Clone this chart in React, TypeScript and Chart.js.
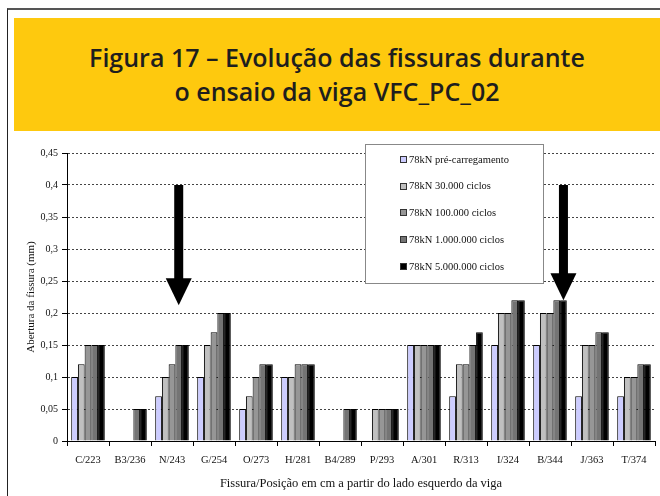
import React, { useEffect, useRef } from "react";
import { Chart, registerables } from "chart.js";

Chart.register(...registerables);

const categories = ["C/223", "B3/236", "N/243", "G/254", "O/273", "H/281", "B4/289", "P/293", "A/301", "R/313", "I/324", "B/344", "J/363", "T/374"];
const seriesLabels = ["78kN pré-carregamento", "78kN 30.000 ciclos", "78kN 100.000 ciclos", "78kN 1.000.000 ciclos", "78kN 5.000.000 ciclos"];
const preLoad = [0.1, 0, 0.07, 0.1, 0.05, 0.1, 0, 0, 0.15, 0.07, 0.15, 0.15, 0.07, 0.07];
const cycles30k = [0.12, 0, 0.1, 0.15, 0.07, 0.1, 0, 0.05, 0.15, 0.12, 0.2, 0.2, 0.15, 0.1];
const cycles100k = [0.15, 0, 0.12, 0.17, 0.1, 0.12, 0, 0.05, 0.15, 0.12, 0.2, 0.2, 0.15, 0.1];
const cycles1M = [0.15, 0.05, 0.15, 0.2, 0.12, 0.12, 0.05, 0.05, 0.15, 0.15, 0.22, 0.22, 0.17, 0.12];
const cycles5M = [0.15, 0.05, 0.15, 0.2, 0.12, 0.12, 0.05, 0.05, 0.15, 0.17, 0.22, 0.22, 0.17, 0.12];
const seriesColors = ["#ccccff", "#c0c0c0", "#969696", "#747474", "#000000"];
const yTicks = [0, 0.05, 0.1, 0.15, 0.2, 0.25, 0.3, 0.35, 0.4, 0.45];
const arrowMarks = [
  { category: "N/243", series: 3, from: 0.4, to: 0.212 },
  { category: "B/344", series: 4, from: 0.4, to: 0.22 },
];

const titleLines = ["Figura 17 – Evolução das fissuras durante", "o ensaio da viga VFC_PC_02"];
const yTitle = "Abertura da fissura (mm)";
const xTitle = "Fissura/Posição em cm a partir do lado esquerdo da viga";

const SERIF = "'Liberation Serif', 'DejaVu Serif', serif";

const arrowPlugin = {
  id: "arrows",
  afterDatasetsDraw(chart: any) {
    const { ctx } = chart;
    const yScale = chart.scales.y;
    arrowMarks.forEach((a) => {
      const idx = categories.indexOf(a.category);
      const el = chart.getDatasetMeta(a.series).data[idx];
      if (!el) return;
      const x = el.x;
      const yTop = yScale.getPixelForValue(a.from);
      const yTip = yScale.getPixelForValue(a.to);
      const headH = 27;
      const headW = 26;
      const shaftW = 9;
      ctx.save();
      ctx.fillStyle = "#000";
      ctx.fillRect(x - shaftW / 2, yTop, shaftW, yTip - headH - yTop + 1);
      ctx.beginPath();
      ctx.moveTo(x - headW / 2, yTip - headH);
      ctx.lineTo(x + headW / 2, yTip - headH);
      ctx.lineTo(x, yTip);
      ctx.closePath();
      ctx.fill();
      ctx.restore();
    });
  },
};

const legendPlugin = {
  id: "boxLegend",
  afterDraw(chart: any) {
    const { ctx } = chart;
    const bx = 365.5, by = 144.5, bw = 178, bh = 139;
    ctx.save();
    ctx.fillStyle = "#fff";
    ctx.fillRect(bx, by, bw, bh);
    ctx.strokeStyle = "#888";
    ctx.lineWidth = 1;
    ctx.strokeRect(bx, by, bw, bh);
    ctx.font = `10.5px ${SERIF}`;
    ctx.textBaseline = "middle";
    ctx.textAlign = "left";
    chart.data.datasets.forEach((ds: any, i: number) => {
      const cy = 160 + i * 26.7;
      ctx.fillStyle = ds.backgroundColor;
      ctx.fillRect(400, Math.round(cy) - 3, 6, 6);
      ctx.strokeStyle = "#333";
      ctx.strokeRect(400.5, Math.round(cy) - 3.5, 6, 6);
      ctx.fillStyle = "#111";
      ctx.fillText(ds.label, 409, cy);
    });
    ctx.restore();
  },
};

export default function App() {
  const canvasRef = useRef<HTMLCanvasElement | null>(null);

  useEffect(() => {
    if (!canvasRef.current) return;
    const series = [preLoad, cycles30k, cycles100k, cycles1M, cycles5M];
    const chart = new Chart(canvasRef.current, {
      type: "bar",
      data: {
        labels: categories,
        datasets: series.map((d, i) => ({
          label: seriesLabels[i],
          data: d,
          backgroundColor: seriesColors[i],
          borderColor: "#000",
          borderWidth: 1,
          borderSkipped: "start",
          categoryPercentage: 0.8,
          barPercentage: 1.0,
        })),
      },
      options: {
        animation: false,
        responsive: false,
        maintainAspectRatio: false,
        devicePixelRatio: 1,
        layout: { padding: { left: 20, top: 153, right: 5, bottom: 0 } },
        plugins: {
          legend: { display: false },
          tooltip: { enabled: false },
          title: { display: false },
        },
        scales: {
          x: {
            offset: true,
            afterFit: (s: any) => { s.height = 55; },
            grid: {
              display: true,
              offset: true,
              drawOnChartArea: false,
              drawTicks: true,
              tickLength: 5,
              color: "#000",
              tickColor: "#000",
            },
            border: { display: true, color: "#000", width: 1 },
            ticks: {
              color: "#111",
              font: { family: SERIF, size: 10.5 },
              padding: 8,
              maxRotation: 0,
              autoSkip: false,
            },
            title: {
              display: true,
              text: xTitle,
              color: "#111",
              font: { family: SERIF, size: 12.5 },
              padding: { top: 0, bottom: 5 },
            },
          },
          y: {
            min: 0,
            max: 0.45,
            afterFit: (s: any) => { s.width = 47; },
            afterBuildTicks: (s: any) => { s.ticks = yTicks.map((v) => ({ value: v })); },
            grid: {
              display: true,
              color: "#444",
              lineWidth: 1,
              drawTicks: true,
              tickLength: 5,
              tickColor: "#000",
              tickBorderDash: [],
            },
            border: { display: true, color: "#000", width: 1, dash: [2, 2] },
            ticks: {
              color: "#111",
              font: { family: SERIF, size: 10 },
              padding: 4,
              callback: (v: any) => String(Math.round(Number(v) * 100) / 100).replace(".", ","),
            },
            title: {
              display: true,
              text: yTitle,
              color: "#111",
              font: { family: SERIF, size: 11 },
              padding: { top: 5, bottom: 0 },
            },
          },
        },
      },
      plugins: [arrowPlugin, legendPlugin],
    } as any);
    return () => chart.destroy();
  }, []);

  return (
    <div style={{ position: "absolute", left: 0, top: 0, width: 660, height: 496, overflow: "hidden", background: "#fff" }}>
      <div style={{ position: "absolute", left: 7, top: 8, width: 660, height: 500, borderTop: "2px solid #555", borderLeft: "1px solid #222" }} />
      <div
        style={{
          position: "absolute",
          left: 14,
          top: 18,
          width: 646,
          height: 113,
          background: "#fec90e",
          boxSizing: "border-box",
          paddingTop: 22,
          textAlign: "center",
          fontFamily: "'Open Sans', 'DejaVu Sans', sans-serif",
          fontWeight: 600,
          fontSize: 25,
          lineHeight: "34px",
          color: "#1e1e1e",
        }}
      >
        {titleLines.map((t, i) => (
          <div key={i}>{t}</div>
        ))}
      </div>
      <canvas ref={canvasRef} width={660} height={496} style={{ position: "absolute", left: 0, top: 0, width: 660, height: 496 }} />
    </div>
  );
}
